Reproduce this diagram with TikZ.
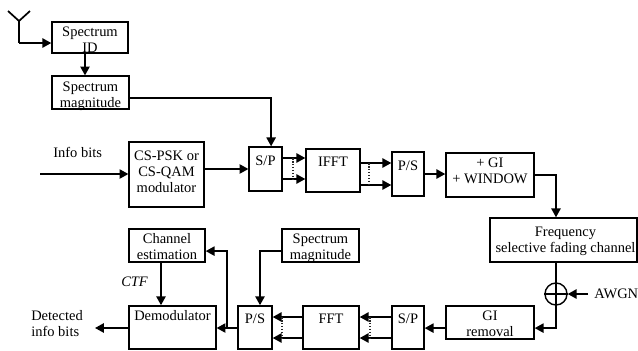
\documentclass[tikz,border=0pt]{standalone}
\usepackage{fontspec}
\setmainfont{Liberation Serif}
\usetikzlibrary{arrows.meta,positioning,calc}
\tikzset{
  ofbox/.style={draw, rectangle, line width=1pt, inner sep=0pt, font=\fontsize{10.3}{11.3}\selectfont},
  ofarrow/.style={-{Triangle[length=2.2mm,width=2.3mm]}, line width=1.2pt},
  ofline/.style={line width=1.2pt},
  ofdots/.style={densely dotted, line width=1.1pt, black!85},
  oflabel/.style={inner sep=0pt, font=\fontsize{10.3}{11.3}\selectfont},
}
\newcommand{\boxtext}[2]{\raisebox{\dimexpr#1-0.12cm\relax}[0pt][0pt]{\begin{tabular}{@{}c@{}}#2\end{tabular}}}

\begin{document}
\begin{tikzpicture}[x=0.025cm,y=-0.025cm]
  \useasboundingbox (0,0) rectangle (638,350);
  % transmitter
  \node[ofbox, minimum width=1.9cm, minimum height=0.78cm] (specid) at (90,37.5) {\boxtext{-0.06cm}{Spectrum\\ID}};
  \node[ofbox, minimum width=1.92cm, minimum height=0.82cm] (specmag) at (90.5,92.5) {\boxtext{-0.06cm}{Spectrum\\magnitude}};
  \node[ofbox, minimum width=1.87cm, minimum height=1.62cm] (mod) at (166.5,174.5) {\boxtext{0.06cm}{CS-PSK or\\CS-QAM\\modulator}};
  \node[ofbox, minimum width=0.82cm, minimum height=1.1cm] (sp) at (265.5,169) {\boxtext{0.2cm}{S/P}};
  \node[ofbox, minimum width=1.35cm, minimum height=1.08cm] (ifft) at (333,170.5) {\boxtext{0.2cm}{IFFT}};
  \node[ofbox, minimum width=0.8cm, minimum height=1.1cm] (ps) at (408,174) {\boxtext{0.2cm}{P/S}};
  \node[ofbox, minimum width=2.2cm, minimum height=1.1cm] (win) at (490,175) {\boxtext{0.11cm}{+ GI\\+ WINDOW}};
  \node[ofbox, minimum width=3.67cm, minimum height=1.1cm] (chan) at (563.5,240) {\hspace*{0.1cm}\boxtext{0cm}{Frequency\\selective fading channel}};
  \node[draw, circle, line width=1pt, inner sep=0pt, minimum size=0.55cm] (plus) at (556,294) {};
  % receiver
  \node[ofbox, minimum width=2.2cm, minimum height=0.82cm] (girem) at (490,322.5) {\boxtext{-0.03cm}{GI\\removal}};
  \node[ofbox, minimum width=0.8cm, minimum height=1.08cm] (spb) at (408,327.5) {\boxtext{0.2cm}{S/P}};
  \node[ofbox, minimum width=1.4cm, minimum height=1.08cm] (fft) at (331,327.5) {\boxtext{0.2cm}{FFT}};
  \node[ofbox, minimum width=0.85cm, minimum height=1.08cm] (psb) at (255,327.5) {\boxtext{0.21cm}{P/S}};
  \node[ofbox, minimum width=2.17cm, minimum height=1.08cm] (demod) at (172.5,327.5) {\boxtext{0.29cm}{Demodulator}};
  \node[ofbox, minimum width=1.9cm, minimum height=0.82cm] (chest) at (167,245.5) {\boxtext{-0.03cm}{Channel\\estimation}};
  \node[ofbox, minimum width=1.92cm, minimum height=0.82cm] (specmagb) at (320.5,245.5) {\boxtext{-0.03cm}{Spectrum\\magnitude}};
  % free labels
  \node[oflabel, anchor=west] (info) at (53,152) {Info bits};
  \node[oflabel, anchor=west, font=\fontsize{10.3}{11.3}\itshape] (ctf) at (121,282) {CTF};
  \node[oflabel, anchor=west, align=left] (det) at (31,323.5) {Detected\\info bits};
  \node[oflabel, anchor=west] (awgn) at (594,294) {AWGN};
  % free ends
  \coordinate (anttop) at (19,21);
  \coordinate (antl) at (8,11);
  \coordinate (antr) at (30,11);
  \coordinate (ant) at (19,43);
  \coordinate (infoin) at (40,174);
  \coordinate (detout) at (95,328);
  \coordinate (tap) at (227,328);
  \coordinate (d1) at (293,158);
  \coordinate (d2) at (293,179);
  \coordinate (d3) at (369,163);
  \coordinate (d4) at (369,185);
  \coordinate (d5) at (370,317);
  \coordinate (d6) at (370,338);
  \coordinate (d7) at (282,317);
  \coordinate (d8) at (282,338);

  \draw[ofline] (antl) -- (anttop) -- (antr);
  \draw[ofline] (anttop) -- (ant);
  \draw[ofarrow] (ant) -- (ant -| specid.west);
  \draw[ofarrow] ([xshift=-0.125cm]specid.south) -- ([xshift=-0.125cm]specid.south |- specmag.north);
  \draw[ofarrow] (specmag.east |- 0,98) -| ([xshift=0.14cm]sp.north);
  \draw[ofarrow] (infoin) -- (infoin -| mod.west);
  \draw[ofarrow] (mod.east |- sp.east) -- (sp.east -| sp.west);
  \draw[ofarrow] (d1 -| sp.east) -- (d1 -| ifft.west);
  \draw[ofarrow] (d2 -| sp.east) -- (d2 -| ifft.west);
  \draw[ofarrow] (d3 -| ifft.east) -- (d3 -| ps.west);
  \draw[ofarrow] (d4 -| ifft.east) -- (d4 -| ps.west);
  \draw[ofdots] (d1) -- (d2);
  \draw[ofdots] (d3) -- (d4);
  \draw[ofarrow] (ps.east) -- (ps.east -| win.west);
  \draw[ofarrow] (win.east) -| (chan.north -| plus);
  \draw[ofline] (chan.south -| plus) -- (plus.north);
  \draw[ofline] (plus.north) -- (plus.south);
  \draw[ofline] (plus.west) -- (plus.east);
  \draw[ofarrow] ([xshift=-0.15cm]awgn.west) -- (plus.east);
  \draw[ofarrow] (plus.south) |- ([yshift=-0.14cm]girem.east);
  \draw[ofarrow] ([yshift=-0.14cm]girem.west) -- ([yshift=-0.14cm]girem.west -| spb.east);
  \draw[ofarrow] (d5 -| spb.west) -- (d5 -| fft.east);
  \draw[ofarrow] (d6 -| spb.west) -- (d6 -| fft.east);
  \draw[ofarrow] (d5 -| fft.west) -- (d5 -| psb.east);
  \draw[ofarrow] (d6 -| fft.west) -- (d6 -| psb.east);
  \draw[ofdots] (d5) -- (d6);
  \draw[ofdots] (d7) -- (d8);
  \draw[ofarrow] (specmagb.west |- 0,251) -| ([xshift=0.125cm]psb.north);
  \draw[ofarrow] (tap -| psb.west) -- (tap -| demod.east);
  \draw[ofarrow] (tap) |- ([yshift=-0.14cm]chest.east);
  \draw[ofarrow] (chest.south -| 161,0) -- (demod.north -| 161,0);
  \draw[ofarrow] (detout -| demod.west) -- (detout);
\end{tikzpicture}
\end{document}
